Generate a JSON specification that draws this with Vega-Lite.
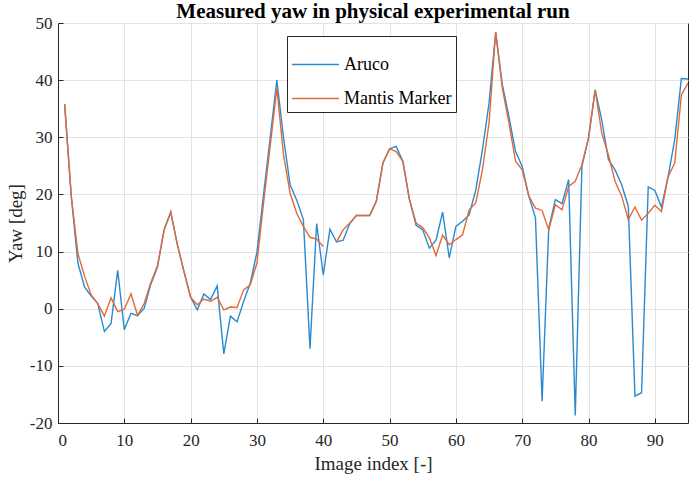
{
  "$schema": "https://vega.github.io/schema/vega-lite/v6.json",
  "width": 630,
  "height": 400,
  "autosize": {"type": "none"},
  "padding": {"left": 58, "top": 23, "right": 4, "bottom": 56},
  "background": "white",
  "title": {
    "text": "Measured yaw in physical experimental run",
    "font": "Liberation Serif",
    "fontSize": 21,
    "fontWeight": "bold",
    "color": "black",
    "anchor": "middle",
    "offset": 0,
    "dy": 8
  },
  "config": {
    "view": {"stroke": "#262626", "strokeWidth": 1},
    "axis": {
      "labelFont": "Liberation Serif",
      "labelFontSize": 17,
      "labelColor": "#262626",
      "titleFont": "Liberation Serif",
      "titleFontSize": 19,
      "titleFontWeight": "normal",
      "titleColor": "#262626",
      "gridColor": "#e3e3e3",
      "gridOpacity": 1,
      "domainColor": "#262626",
      "tickColor": "#262626",
      "tickSize": -5
    }
  },
  "data": {
    "values": [
      {"i":1,"v":35.8,"s":"Aruco"},{"i":2,"v":19.7,"s":"Aruco"},{"i":3,"v":8.0,"s":"Aruco"},{"i":4,"v":3.8,"s":"Aruco"},{"i":5,"v":2.2,"s":"Aruco"},
      {"i":6,"v":0.9,"s":"Aruco"},{"i":7,"v":-4.0,"s":"Aruco"},{"i":8,"v":-2.6,"s":"Aruco"},{"i":9,"v":6.7,"s":"Aruco"},{"i":10,"v":-3.7,"s":"Aruco"},
      {"i":11,"v":-0.8,"s":"Aruco"},{"i":12,"v":-1.2,"s":"Aruco"},{"i":13,"v":0.1,"s":"Aruco"},{"i":14,"v":4.3,"s":"Aruco"},{"i":15,"v":7.3,"s":"Aruco"},
      {"i":16,"v":13.8,"s":"Aruco"},{"i":17,"v":16.9,"s":"Aruco"},{"i":18,"v":11.2,"s":"Aruco"},{"i":19,"v":6.5,"s":"Aruco"},{"i":20,"v":2.0,"s":"Aruco"},
      {"i":21,"v":-0.2,"s":"Aruco"},{"i":22,"v":2.6,"s":"Aruco"},{"i":23,"v":1.6,"s":"Aruco"},{"i":24,"v":4.0,"s":"Aruco"},{"i":25,"v":-7.9,"s":"Aruco"},
      {"i":26,"v":-1.3,"s":"Aruco"},{"i":27,"v":-2.3,"s":"Aruco"},{"i":28,"v":1.3,"s":"Aruco"},{"i":29,"v":4.5,"s":"Aruco"},{"i":30,"v":9.9,"s":"Aruco"},
      {"i":31,"v":20.0,"s":"Aruco"},{"i":32,"v":30.0,"s":"Aruco"},{"i":33,"v":40.0,"s":"Aruco"},{"i":34,"v":30.0,"s":"Aruco"},{"i":35,"v":21.7,"s":"Aruco"},
      {"i":36,"v":19.0,"s":"Aruco"},{"i":37,"v":15.6,"s":"Aruco"},{"i":38,"v":-7.0,"s":"Aruco"},{"i":39,"v":14.9,"s":"Aruco"},{"i":40,"v":5.9,"s":"Aruco"},
      {"i":41,"v":13.9,"s":"Aruco"},{"i":42,"v":11.7,"s":"Aruco"},{"i":43,"v":12.0,"s":"Aruco"},{"i":44,"v":14.9,"s":"Aruco"},{"i":45,"v":16.3,"s":"Aruco"},
      {"i":46,"v":16.3,"s":"Aruco"},{"i":47,"v":16.3,"s":"Aruco"},{"i":48,"v":18.8,"s":"Aruco"},{"i":49,"v":25.5,"s":"Aruco"},{"i":50,"v":28.0,"s":"Aruco"},
      {"i":51,"v":28.4,"s":"Aruco"},{"i":52,"v":25.8,"s":"Aruco"},{"i":53,"v":19.1,"s":"Aruco"},{"i":54,"v":14.6,"s":"Aruco"},{"i":55,"v":13.8,"s":"Aruco"},
      {"i":56,"v":10.6,"s":"Aruco"},{"i":57,"v":12.0,"s":"Aruco"},{"i":58,"v":16.9,"s":"Aruco"},{"i":59,"v":8.9,"s":"Aruco"},{"i":60,"v":14.4,"s":"Aruco"},
      {"i":61,"v":15.3,"s":"Aruco"},{"i":62,"v":16.4,"s":"Aruco"},{"i":63,"v":20.8,"s":"Aruco"},{"i":64,"v":27.8,"s":"Aruco"},{"i":65,"v":36.0,"s":"Aruco"},
      {"i":66,"v":48.4,"s":"Aruco"},{"i":67,"v":39.2,"s":"Aruco"},{"i":68,"v":33.6,"s":"Aruco"},{"i":69,"v":27.5,"s":"Aruco"},{"i":70,"v":24.9,"s":"Aruco"},
      {"i":71,"v":19.7,"s":"Aruco"},{"i":72,"v":15.9,"s":"Aruco"},{"i":73,"v":-16.2,"s":"Aruco"},{"i":74,"v":14.1,"s":"Aruco"},{"i":75,"v":19.1,"s":"Aruco"},
      {"i":76,"v":18.4,"s":"Aruco"},{"i":77,"v":22.6,"s":"Aruco"},{"i":78,"v":-18.7,"s":"Aruco"},{"i":79,"v":24.9,"s":"Aruco"},{"i":80,"v":29.9,"s":"Aruco"},
      {"i":81,"v":38.3,"s":"Aruco"},{"i":82,"v":33.0,"s":"Aruco"},{"i":83,"v":26.1,"s":"Aruco"},{"i":84,"v":24.3,"s":"Aruco"},{"i":85,"v":21.7,"s":"Aruco"},
      {"i":86,"v":17.9,"s":"Aruco"},{"i":87,"v":-15.3,"s":"Aruco"},{"i":88,"v":-14.7,"s":"Aruco"},{"i":89,"v":21.3,"s":"Aruco"},{"i":90,"v":20.7,"s":"Aruco"},
      {"i":91,"v":17.8,"s":"Aruco"},{"i":92,"v":23.1,"s":"Aruco"},{"i":93,"v":29.6,"s":"Aruco"},{"i":94,"v":40.3,"s":"Aruco"},{"i":95,"v":40.2,"s":"Aruco"},
      {"i":1,"v":35.8,"s":"Mantis Marker"},{"i":2,"v":19.7,"s":"Mantis Marker"},{"i":3,"v":9.7,"s":"Mantis Marker"},{"i":4,"v":5.7,"s":"Mantis Marker"},{"i":5,"v":2.4,"s":"Mantis Marker"},
      {"i":6,"v":0.9,"s":"Mantis Marker"},{"i":7,"v":-1.3,"s":"Mantis Marker"},{"i":8,"v":1.9,"s":"Mantis Marker"},{"i":9,"v":-0.5,"s":"Mantis Marker"},{"i":10,"v":-0.1,"s":"Mantis Marker"},
      {"i":11,"v":2.6,"s":"Mantis Marker"},{"i":12,"v":-1.2,"s":"Mantis Marker"},{"i":13,"v":0.9,"s":"Mantis Marker"},{"i":14,"v":4.6,"s":"Mantis Marker"},{"i":15,"v":7.5,"s":"Mantis Marker"},
      {"i":16,"v":13.8,"s":"Mantis Marker"},{"i":17,"v":16.9,"s":"Mantis Marker"},{"i":18,"v":11.2,"s":"Mantis Marker"},{"i":19,"v":6.5,"s":"Mantis Marker"},{"i":20,"v":2.0,"s":"Mantis Marker"},
      {"i":21,"v":0.7,"s":"Mantis Marker"},{"i":22,"v":1.7,"s":"Mantis Marker"},{"i":23,"v":1.3,"s":"Mantis Marker"},{"i":24,"v":2.0,"s":"Mantis Marker"},{"i":25,"v":-0.2,"s":"Mantis Marker"},
      {"i":26,"v":0.3,"s":"Mantis Marker"},{"i":27,"v":0.2,"s":"Mantis Marker"},{"i":28,"v":3.3,"s":"Mantis Marker"},{"i":29,"v":4.2,"s":"Mantis Marker"},{"i":30,"v":8.0,"s":"Mantis Marker"},
      {"i":31,"v":18.5,"s":"Mantis Marker"},{"i":32,"v":28.5,"s":"Mantis Marker"},{"i":33,"v":38.6,"s":"Mantis Marker"},{"i":34,"v":27.0,"s":"Mantis Marker"},{"i":35,"v":20.2,"s":"Mantis Marker"},
      {"i":36,"v":16.7,"s":"Mantis Marker"},{"i":37,"v":14.4,"s":"Mantis Marker"},{"i":38,"v":12.5,"s":"Mantis Marker"},{"i":39,"v":12.2,"s":"Mantis Marker"},{"i":40,"v":10.9,"s":"Mantis Marker"},
      {"i":41,"v":null,"s":"Mantis Marker"},{"i":42,"v":11.7,"s":"Mantis Marker"},{"i":43,"v":13.8,"s":"Mantis Marker"},{"i":44,"v":15.0,"s":"Mantis Marker"},{"i":45,"v":16.3,"s":"Mantis Marker"},
      {"i":46,"v":16.3,"s":"Mantis Marker"},{"i":47,"v":16.3,"s":"Mantis Marker"},{"i":48,"v":18.8,"s":"Mantis Marker"},{"i":49,"v":25.5,"s":"Mantis Marker"},{"i":50,"v":28.0,"s":"Mantis Marker"},
      {"i":51,"v":27.5,"s":"Mantis Marker"},{"i":52,"v":25.8,"s":"Mantis Marker"},{"i":53,"v":19.1,"s":"Mantis Marker"},{"i":54,"v":15.0,"s":"Mantis Marker"},{"i":55,"v":14.2,"s":"Mantis Marker"},
      {"i":56,"v":12.4,"s":"Mantis Marker"},{"i":57,"v":9.3,"s":"Mantis Marker"},{"i":58,"v":12.9,"s":"Mantis Marker"},{"i":59,"v":11.2,"s":"Mantis Marker"},{"i":60,"v":12.1,"s":"Mantis Marker"},
      {"i":61,"v":12.9,"s":"Mantis Marker"},{"i":62,"v":17.3,"s":"Mantis Marker"},{"i":63,"v":18.5,"s":"Mantis Marker"},{"i":64,"v":24.3,"s":"Mantis Marker"},{"i":65,"v":32.5,"s":"Mantis Marker"},
      {"i":66,"v":48.4,"s":"Mantis Marker"},{"i":67,"v":38.6,"s":"Mantis Marker"},{"i":68,"v":32.5,"s":"Mantis Marker"},{"i":69,"v":25.8,"s":"Mantis Marker"},{"i":70,"v":24.3,"s":"Mantis Marker"},
      {"i":71,"v":19.7,"s":"Mantis Marker"},{"i":72,"v":17.6,"s":"Mantis Marker"},{"i":73,"v":17.2,"s":"Mantis Marker"},{"i":74,"v":13.8,"s":"Mantis Marker"},{"i":75,"v":18.2,"s":"Mantis Marker"},
      {"i":76,"v":17.3,"s":"Mantis Marker"},{"i":77,"v":21.4,"s":"Mantis Marker"},{"i":78,"v":22.3,"s":"Mantis Marker"},{"i":79,"v":25.2,"s":"Mantis Marker"},{"i":80,"v":29.9,"s":"Mantis Marker"},
      {"i":81,"v":38.3,"s":"Mantis Marker"},{"i":82,"v":30.7,"s":"Mantis Marker"},{"i":83,"v":26.9,"s":"Mantis Marker"},{"i":84,"v":22.3,"s":"Mantis Marker"},{"i":85,"v":19.7,"s":"Mantis Marker"},
      {"i":86,"v":15.6,"s":"Mantis Marker"},{"i":87,"v":17.8,"s":"Mantis Marker"},{"i":88,"v":15.5,"s":"Mantis Marker"},{"i":89,"v":16.7,"s":"Mantis Marker"},{"i":90,"v":18.1,"s":"Mantis Marker"},
      {"i":91,"v":17.0,"s":"Mantis Marker"},{"i":92,"v":23.1,"s":"Mantis Marker"},{"i":93,"v":25.5,"s":"Mantis Marker"},{"i":94,"v":37.4,"s":"Mantis Marker"},{"i":95,"v":39.5,"s":"Mantis Marker"}
    ]
  },
  "mark": {"type": "line", "strokeWidth": 1.4, "invalid": "break-paths-filter-domains", "clip": true},
  "encoding": {
    "x": {
      "field": "i",
      "type": "quantitative",
      "scale": {"domain": [0, 95], "nice": false, "zero": false},
      "axis": {"values": [0,10,20,30,40,50,60,70,80,90], "title": "Image index [-]", "labelPadding": 14, "titlePadding": 6}
    },
    "y": {
      "field": "v",
      "type": "quantitative",
      "scale": {"domain": [-20, 50], "nice": false},
      "axis": {"values": [-20,-10,0,10,20,30,40,50], "labelExpr": "'' + datum.value", "title": "Yaw [deg]", "labelPadding": 11, "titlePadding": 4}
    },
    "color": {
      "field": "s",
      "type": "nominal",
      "scale": {"domain": ["Aruco", "Mantis Marker"], "range": ["#2A8AD0", "#E2693A"]},
      "legend": {
        "title": null,
        "orient": "none",
        "legendX": 229,
        "legendY": 13,
        "fillColor": "white",
        "strokeColor": "#262626",
        "padding": 4,
        "labelFont": "Liberation Serif",
        "labelFontSize": 18,
        "labelColor": "black",
        "symbolType": "stroke",
        "symbolSize": 2200,
        "symbolStrokeWidth": 1.4,
        "rowPadding": -26,
        "labelOffset": 4
      }
    },
    "order": {"field": "i", "type": "quantitative"}
  }
}
